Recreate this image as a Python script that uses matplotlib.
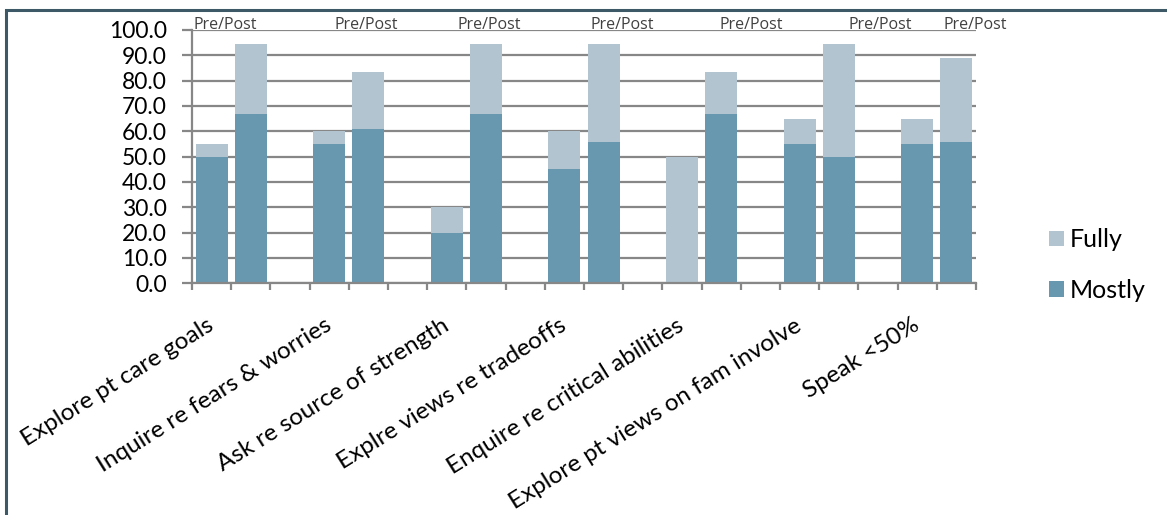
import matplotlib
matplotlib.use("Agg")
import matplotlib.pyplot as plt
from matplotlib.patches import Patch, Rectangle
import numpy as np

plt.rcParams['font.family'] = ['Lato', 'DejaVu Sans']

# Questionnaire items (each item gets a Pre slot, a Post slot and an empty spacer slot)
items = ["Explore pt care goals", "Inquire re fears & worries", "Ask re source of strength",
         "Explre views re tradeoffs", "Enquire re critical abilities",
         "Explore pt views on fam involve", "Speak <50%"]

# Percentages per item
pre_mostly = [50.0, 55.0, 20.0, 45.0, 0.0, 55.0, 55.0]
pre_fully = [5.0, 5.0, 10.0, 15.0, 50.0, 10.0, 10.0]
post_mostly = [66.7, 61.1, 66.7, 55.6, 66.7, 50.0, 55.6]
post_fully = [27.8, 22.2, 27.8, 38.9, 16.7, 44.4, 33.3]

yticks = [0, 10, 20, 30, 40, 50, 60, 70, 80, 90, 100]
series_names = ["Fully", "Mostly"]

MOSTLY_C = "#6897b0"
FULLY_C = "#b2c4d0"
GRID_C = "#878787"

W, H = 1167, 515
fig = plt.figure(figsize=(W / 100, H / 100), dpi=100)

# Outer chart frame
fig.patches.append(Rectangle((6 / W, -0.1), 1.2, (1 - 10 / H) + 0.1, transform=fig.transFigure,
                             fill=False, edgecolor="#3d5866", linewidth=2.2, zorder=0))

ax = fig.add_axes([192 / W, 1 - 283.3 / H, (976 - 192) / W, (283.3 - 30) / H])

n = len(items)
pre_x = np.arange(n) * 3
post_x = pre_x + 1
bw = 0.82

ax.bar(pre_x, pre_mostly, width=bw, color=MOSTLY_C, linewidth=0, zorder=3)
ax.bar(pre_x, pre_fully, width=bw, bottom=pre_mostly, color=FULLY_C, linewidth=0, zorder=3)
ax.bar(post_x, post_mostly, width=bw, color=MOSTLY_C, linewidth=0, zorder=3)
ax.bar(post_x, post_fully, width=bw, bottom=post_mostly, color=FULLY_C, linewidth=0, zorder=3)

nslots = 3 * n - 1
ax.set_xlim(-0.5, nslots - 0.5)
ax.set_ylim(0, 100)

# y axis
ax.set_yticks(yticks)
ax.set_yticklabels([f"{v:.1f}" for v in yticks], fontsize=16.5)
ax.yaxis.grid(True, color=GRID_C, linewidth=1.6, zorder=0)
ax.tick_params(axis='y', length=7, width=1.6, color=GRID_C, pad=11, labelcolor="black")

# x axis: labels on Pre slots, tick marks on slot boundaries
ax.set_xticks(pre_x)
ax.set_xticklabels(items, rotation=32, ha='right', rotation_mode='anchor', fontsize=17.5)
ax.tick_params(axis='x', which='major', length=0, pad=29)
ax.set_xticks(np.arange(-0.5, nslots, 1.0), minor=True)
ax.tick_params(axis='x', which='minor', length=5, width=1.6, color=GRID_C)
for lab in ax.get_xticklabels():
    lab.set_verticalalignment('center')

for side in ("top", "right"):
    ax.spines[side].set_visible(False)
for side in ("left", "bottom"):
    ax.spines[side].set_color(GRID_C)
    ax.spines[side].set_linewidth(1.6)
    ax.spines[side].set_zorder(4)

# Pre/Post captions above each pair
caption_x = [0.34, 3.94, 7.08, 10.47, 13.76, 17.05, 19.47]
for cx in caption_x:
    ax.annotate("Pre/Post", (cx, 1.0), xycoords=ax.get_xaxis_transform(),
                xytext=(0, 1), textcoords='offset points', ha='center', va='baseline',
                fontsize=11.5, color="#404040", family=['Open Sans', 'DejaVu Sans'])

handles = [Patch(facecolor=FULLY_C, edgecolor='none'), Patch(facecolor=MOSTLY_C, edgecolor='none')]
fig.legend(handles, series_names, loc='center left', bbox_to_anchor=(1026 / W, 1 - 265 / H),
           frameon=False, fontsize=18, handlelength=0.6, handleheight=0.6,
           handletextpad=0.25, labelspacing=1.1)

fig.savefig("out.png", dpi=100)
